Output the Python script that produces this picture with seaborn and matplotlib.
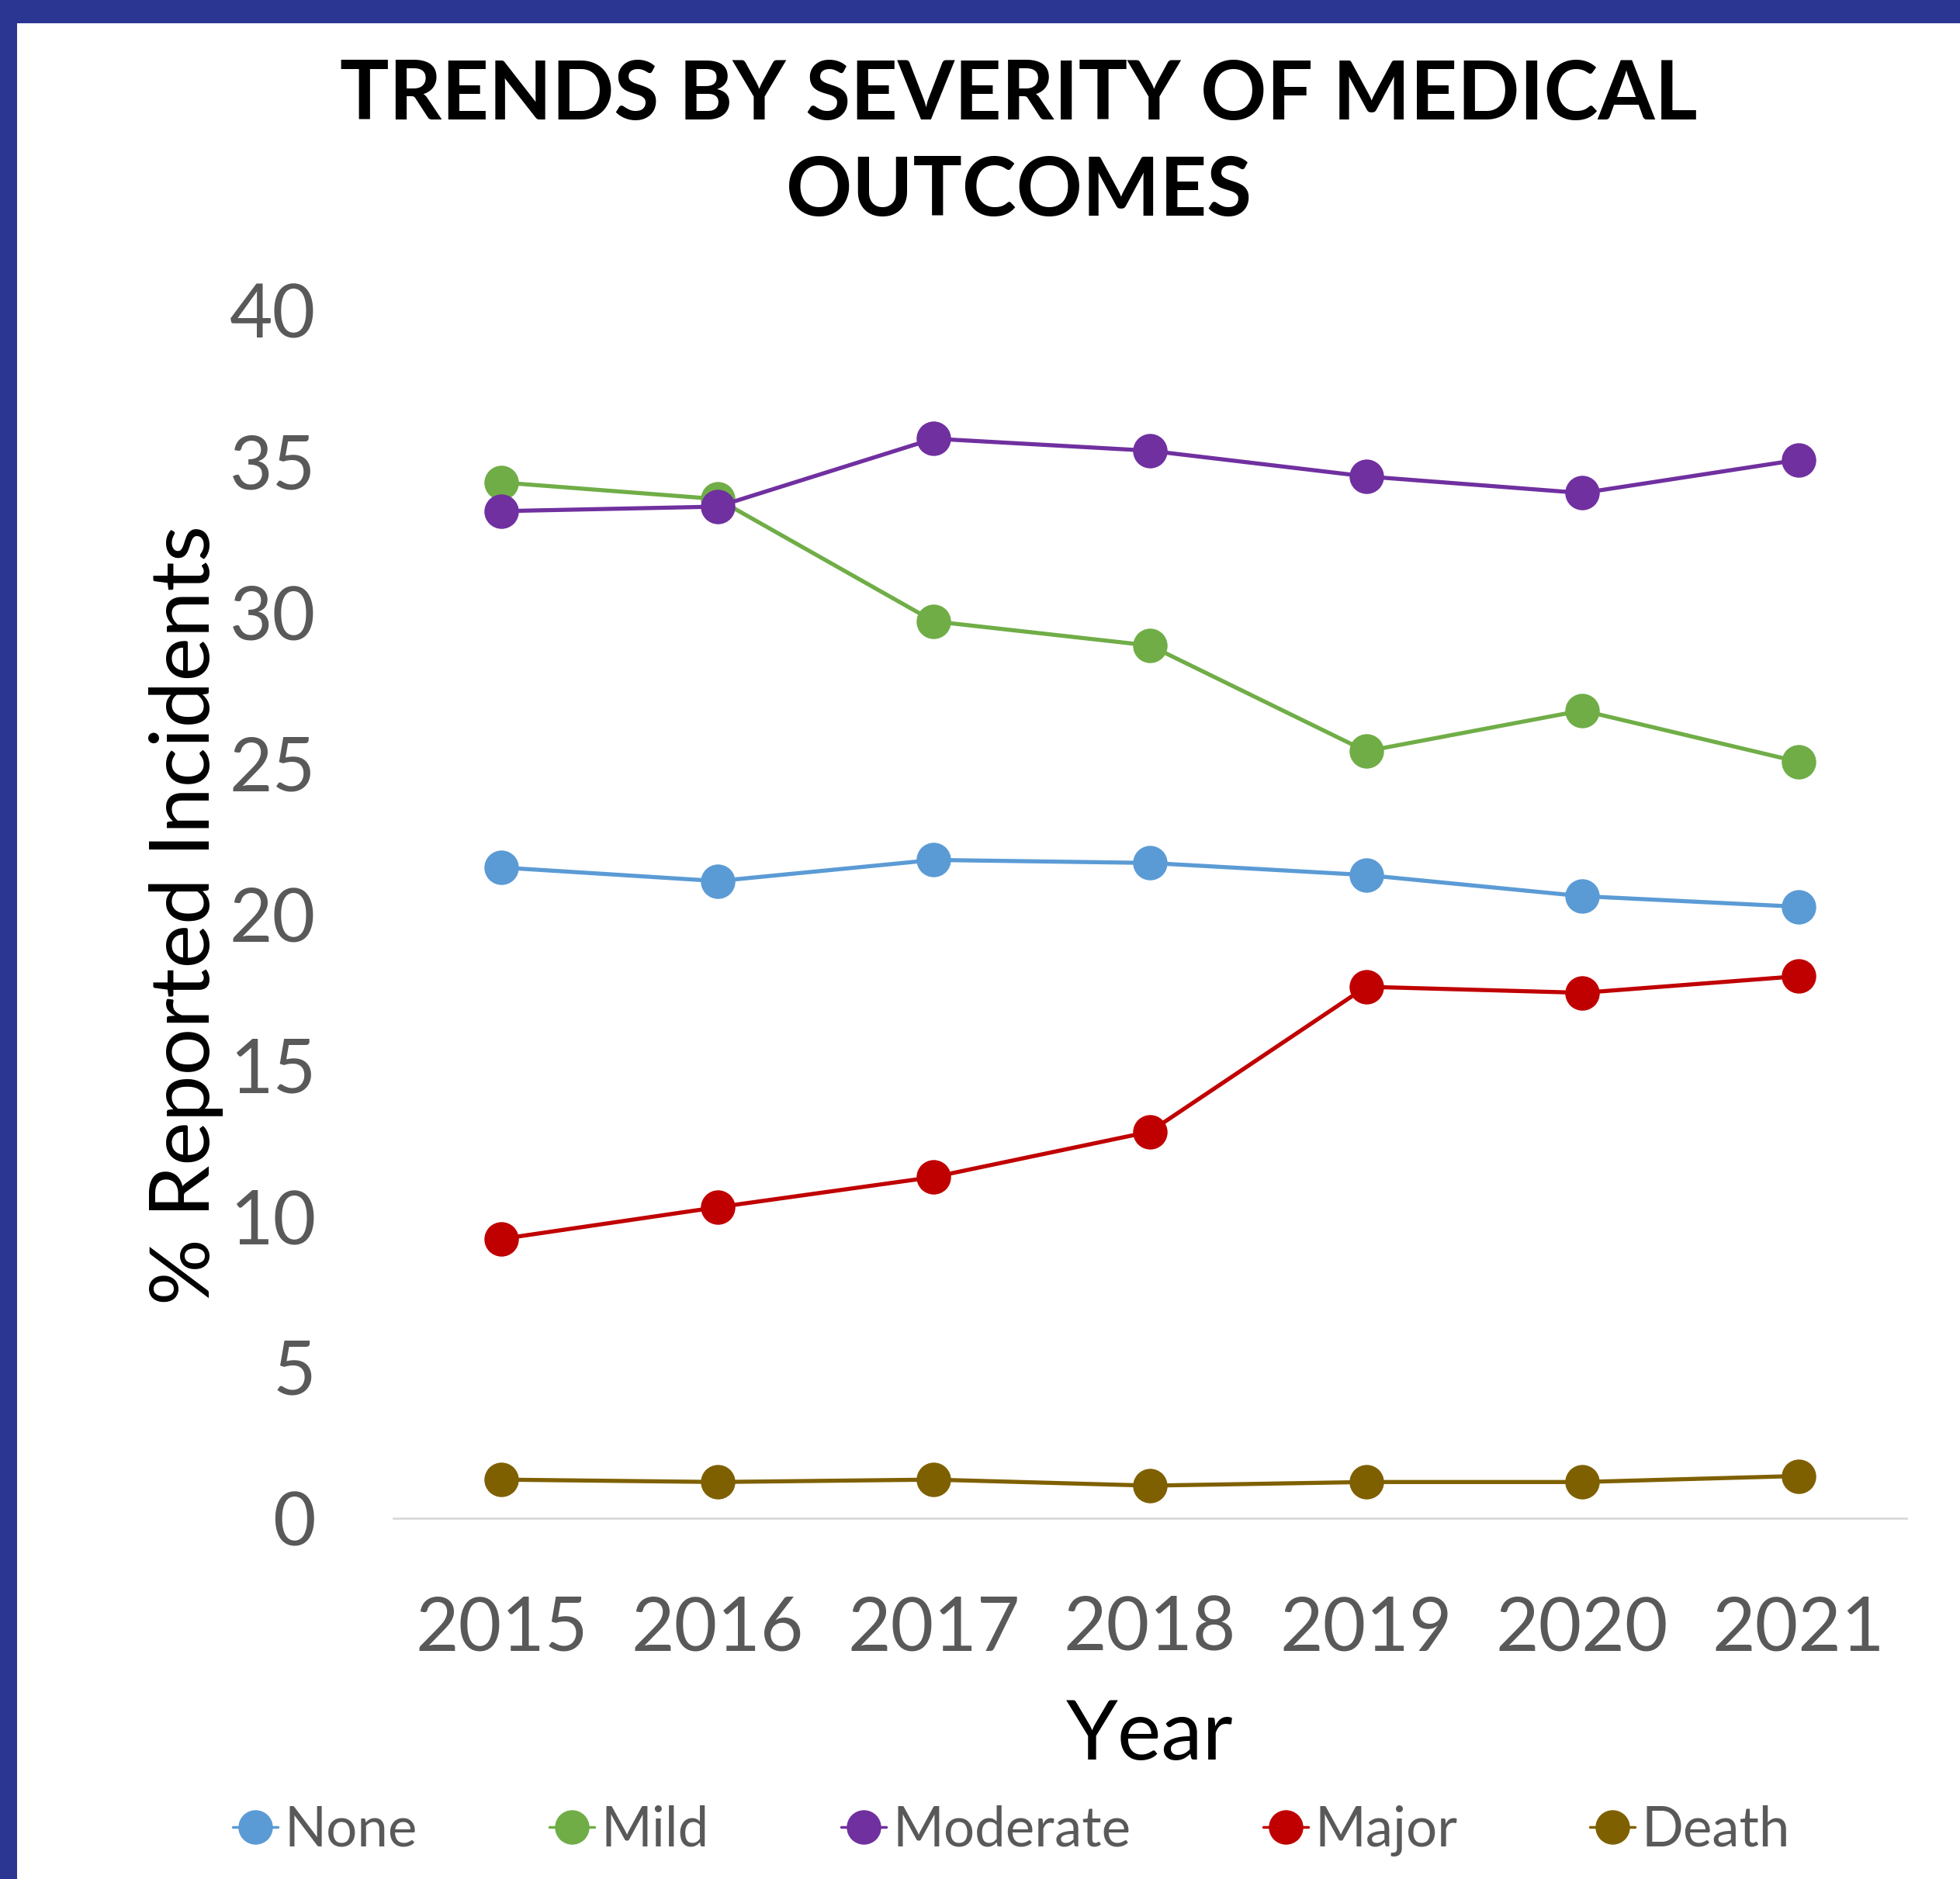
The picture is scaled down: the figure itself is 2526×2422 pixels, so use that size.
import matplotlib
matplotlib.use("Agg")
import matplotlib.pyplot as plt
import seaborn as sns
import pandas as pd
from matplotlib.patches import Rectangle

years = ["2015", "2016", "2017", "2018", "2019", "2020", "2021"]
severities = ["None", "Mild", "Moderate", "Major", "Death"]
none_vals = [21.55, 21.1, 21.8, 21.7, 21.3, 20.6, 20.25]
mild_vals = [34.3, 33.75, 29.7, 28.9, 25.4, 26.75, 25.05]
moderate_vals = [33.35, 33.5, 35.75, 35.35, 34.5, 33.95, 35.05]
major_vals = [9.25, 10.3, 11.3, 12.8, 17.6, 17.4, 17.95]
death_vals = [1.28, 1.2, 1.28, 1.08, 1.2, 1.2, 1.4]
colors = ["#5B9BD5", "#70AD47", "#7030A0", "#C00000", "#7F6000"]
yticks = [0, 5, 10, 15, 20, 25, 30, 35, 40]

series = [none_vals, mild_vals, moderate_vals, major_vals, death_vals]
rows = []
for sev, vals in zip(severities, series):
    for y, v in zip(years, vals):
        rows.append({"Year": y, "Value": v, "Severity": sev})
df = pd.DataFrame(rows)

sns.set_theme(style="white")
plt.rcParams["font.family"] = ["Lato", "DejaVu Sans"]

W, H = 2526, 2422
fig = plt.figure(figsize=(W / 100, H / 100), dpi=100)
fig.patch.set_facecolor("white")

# border bands
fig.add_artist(Rectangle((0, 1 - 30 / H), 1, 30 / H, transform=fig.transFigure,
                         facecolor="#2B3592", edgecolor="none", zorder=5))
fig.add_artist(Rectangle((0, 0), 22 / W, 1, transform=fig.transFigure,
                         facecolor="#2B3592", edgecolor="none", zorder=5))

ax = fig.add_axes([507 / W, 1 - 1957 / H, (2457 - 507) / W, (1957 - 400) / H])
sns.lineplot(data=df, x="Year", y="Value", hue="Severity", hue_order=severities,
             palette=colors, marker="o", markersize=32, markeredgewidth=0,
             linewidth=3.8, sort=False, ax=ax)

ax.set_xlim(-0.5, 6.5)
ax.set_ylim(0, 40)
ax.set_yticks(yticks)
ax.set_yticklabels([str(t) for t in yticks])
ax.set_xlabel("")
ax.set_ylabel("")
for s in ["top", "right", "left"]:
    ax.spines[s].set_visible(False)
ax.spines["bottom"].set_color("#D9D9D9")
ax.spines["bottom"].set_linewidth(2)
ax.tick_params(axis="both", length=0, labelsize=69, labelcolor="#595959")
ax.tick_params(axis="y", pad=72)
ax.tick_params(axis="x", pad=72)
ax.grid(False)

handles, labels = ax.get_legend_handles_labels()
ax.get_legend().remove()
for h in handles:
    h.set_linewidth(2.5)
fig.legend(handles, labels, ncol=5, loc="center", bbox_to_anchor=(0.5160, 1 - 2360 / H),
           frameon=False, fontsize=51, labelcolor="#595959", handlelength=0.82,
           handletextpad=0.12, columnspacing=2.4, markerscale=1.0)

fig.text(1313 / W, 1 - 186 / H, "TRENDS BY SEVERITY OF MEDICAL\nOUTCOMES", ha="center",
         va="center", fontsize=76, fontweight="bold", color="black", linespacing=1.36)
fig.text(240 / W, 1 - 1180 / H, "% Reported Incidents", rotation=90, ha="center",
         va="center", fontsize=77, color="black")
fig.text(1482 / W, 1 - 2238 / H, "Year", ha="center", va="center", fontsize=77, color="black")

fig.savefig("out.png", dpi=100, facecolor="white")
